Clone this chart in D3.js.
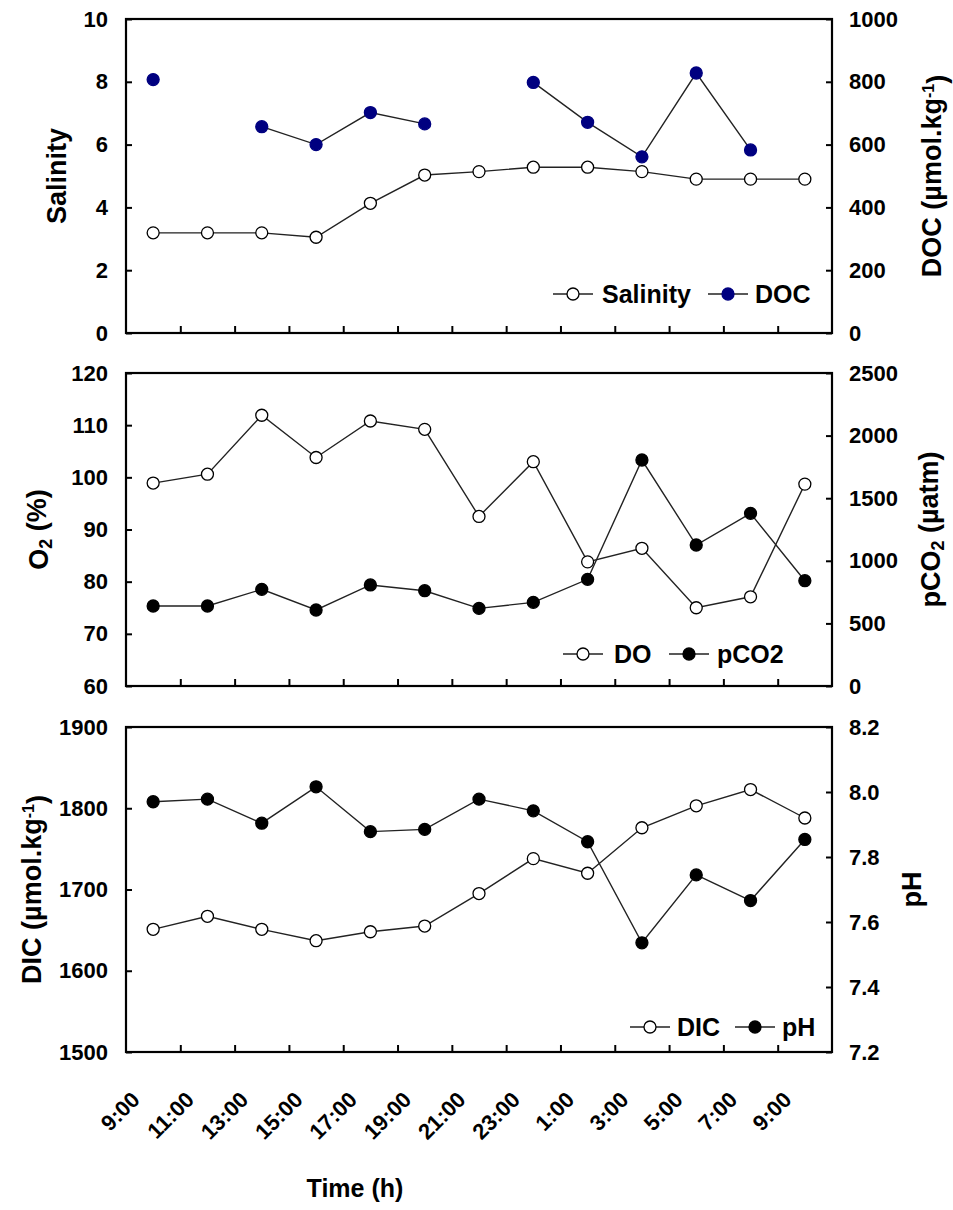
<html>
<head>
<meta charset="utf-8">
<title>Time series</title>
<script src="https://d3js.org/d3.v7.min.js"></script>
<style>
  body { margin: 0; background: #fff; }
  text { font-family: "Liberation Sans", Arial, sans-serif; font-weight: bold; fill: #000; }
</style>
</head>
<body>
<div id="chart"></div>
<script>
// sampling times, every 2 h
const timeLabels = ["9:00","11:00","13:00","15:00","17:00","19:00","21:00","23:00","1:00","3:00","5:00","7:00","9:00"];

const salinity = [3.19, 3.19, 3.19, 3.05, 4.13, 5.03, 5.14, 5.28, 5.28, 5.14, 4.9, 4.9, 4.9];
const doc = [807, null, 657, 600, 702, 666, null, 798, 671, 561, 828, 583, null];

const dissolvedO2 = [98.9, 100.6, 111.9, 103.8, 110.8, 109.2, 92.5, 103.0, 83.8, 86.4, 75.0, 77.1, 98.7];
const pco2 = [639, 639, 772, 607, 807, 761, 620, 668, 852, 1805, 1126, 1379, 841];

const dic = [1651, 1667, 1651, 1637, 1648, 1655, 1695, 1738, 1720, 1776, 1803, 1823, 1788];
const ph = [7.970, 7.978, 7.904, 8.016, 7.878, 7.885, 7.978, 7.942, 7.847, 7.536, 7.745, 7.666, 7.854];

const salinityTicks = [0, 2, 4, 6, 8, 10];
const docTicks = [0, 200, 400, 600, 800, 1000];
const o2Ticks = [60, 70, 80, 90, 100, 110, 120];
const pco2Ticks = [0, 500, 1000, 1500, 2000, 2500];
const dicTicks = [1500, 1600, 1700, 1800, 1900];
const phTicks = [7.2, 7.4, 7.6, 7.8, 8.0, 8.2];

let width = 953, height = 1210,
    plotLeft = 126, plotRight = 832,
    tickFont = 22, legendFont = 25, titleFont = 27,
    docColor = "#000080";

const svg = d3.select("#chart").append("svg")
    .attr("width", width)
    .attr("height", height);

const x = d3.scaleBand()
    .domain(d3.range(timeLabels.length))
    .range([plotLeft, plotRight]);
const xEdge = d3.scaleLinear()
    .domain([0, timeLabels.length])
    .range([plotLeft, plotRight]);
const cx = i => x(i) + x.bandwidth() / 2;

const panels = [
    { top: 19, bottom: 333,
      left: { ticks: salinityTicks, fmt: d3.format("d"), title: [["Salinity"]], tx: 57 },
      right: { ticks: docTicks, fmt: d3.format("d"), title: [["DOC (µmol.kg"], ["-1", "sup"], [")"]], tx: 932 },
      series: [
        { values: salinity, axis: "left", fill: "#fff", stroke: "#000", name: "Salinity" },
        { values: doc, axis: "right", fill: docColor, stroke: docColor, name: "DOC" }
      ],
      legend: [ { lx: 553, tx: 602 }, { lx: 708, tx: 755 } ], legendY: 294 },
    { top: 373, bottom: 686,
      left: { ticks: o2Ticks, fmt: d3.format("d"), title: [["O"], ["2", "sub"], [" (%)"]], tx: 39 },
      right: { ticks: pco2Ticks, fmt: d3.format("d"), title: [["pCO"], ["2", "sub"], [" (µatm)"]], tx: 931 },
      series: [
        { values: dissolvedO2, axis: "left", fill: "#fff", stroke: "#000", name: "DO" },
        { values: pco2, axis: "right", fill: "#000", stroke: "#000", name: "pCO2" }
      ],
      legend: [ { lx: 563, tx: 614 }, { lx: 669, tx: 717 } ], legendY: 654 },
    { top: 727, bottom: 1052,
      left: { ticks: dicTicks, fmt: d3.format("d"), title: [["DIC (µmol.kg"], ["-1", "sup"], [")"]], tx: 32 },
      right: { ticks: phTicks, fmt: d3.format(".1f"), title: [["pH"]], tx: 912 },
      series: [
        { values: dic, axis: "left", fill: "#fff", stroke: "#000", name: "DIC" },
        { values: ph, axis: "right", fill: "#000", stroke: "#000", name: "pH" }
      ],
      legend: [ { lx: 630, tx: 677 }, { lx: 735, tx: 782 } ], legendY: 1027 }
];

// rotated axis title, with optional sub/superscript pieces
const addTitle = (g, parts, tx, ty) => {
    let t = g.append("text")
        .attr("transform", `translate(${tx},${ty}) rotate(-90)`)
        .attr("text-anchor", "middle")
        .attr("dy", "0.35em")
        .style("font-size", titleFont + "px");
    let shift = 0;
    parts.forEach(p => {
        let s = t.append("tspan").text(p[0]);
        if (p[1] == "sup") { s.attr("dy", "-0.45em").style("font-size", "16px"); shift = 0.45; }
        else if (p[1] == "sub") { s.attr("dy", "0.22em").style("font-size", "18px"); shift = -0.22; }
        else if (shift != 0) { s.attr("dy", shift + "em"); shift = 0; }
    });
};

panels.forEach((p, pi) => {
    const g = svg.append("g");
    const yL = d3.scaleLinear().domain(d3.extent(p.left.ticks)).range([p.bottom, p.top]);
    const yR = d3.scaleLinear().domain(d3.extent(p.right.ticks)).range([p.bottom, p.top]);

    // left axis, ticks pointing inside
    const ax = g.append("g")
        .attr("transform", `translate(${plotLeft},0)`)
        .call(d3.axisLeft(yL).tickValues(p.left.ticks).tickFormat(p.left.fmt).tickSize(-6).tickPadding(18));
    ax.select(".domain").remove();
    ax.selectAll("text").style("font-size", tickFont + "px").attr("font-family", null);
    ax.selectAll("line").attr("stroke-width", 2);

    const axR = g.append("g")
        .attr("transform", `translate(${plotRight},0)`)
        .call(d3.axisRight(yR).tickValues(p.right.ticks).tickFormat(p.right.fmt).tickSize(-6).tickPadding(17));
    axR.select(".domain").remove();
    axR.selectAll("text").style("font-size", tickFont + "px").attr("font-family", null);
    axR.selectAll("line").attr("stroke-width", 2);

    const axB = g.append("g")
        .attr("transform", `translate(0,${p.bottom})`)
        .call(d3.axisBottom(xEdge).tickValues(d3.range(1, timeLabels.length)).tickFormat("").tickSize(-7));
    axB.select(".domain").remove();
    axB.selectAll("line").attr("stroke-width", 2);

    g.append("rect")
        .attr("x", plotLeft).attr("y", p.top)
        .attr("width", plotRight - plotLeft).attr("height", p.bottom - p.top)
        .attr("fill", "none").attr("stroke", "#000").attr("stroke-width", 2.2);

    addTitle(g, p.left.title, p.left.tx, (p.top + p.bottom) / 2);
    addTitle(g, p.right.title, p.right.tx, (p.top + p.bottom) / 2);

    p.series.forEach((s, si) => {
        const y = s.axis == "left" ? yL : yR;
        const line = d3.line()
            .defined(d => d != null)
            .x((d, i) => cx(i))
            .y(d => y(d));
        g.append("path")
            .attr("d", line(s.values))
            .attr("fill", "none")
            .attr("stroke", "#222")
            .attr("stroke-width", 1.4);
        g.selectAll(".pt" + si)
            .data(s.values.map((v, i) => ({ v: v, i: i })).filter(d => d.v != null))
            .enter()
            .append("circle")
            .attr("cx", d => cx(d.i))
            .attr("cy", d => y(d.v))
            .attr("r", 6)
            .attr("fill", s.fill)
            .attr("stroke", s.stroke)
            .attr("stroke-width", 1.3);

        // legend entry
        const lg = p.legend[si];
        g.append("line")
            .attr("x1", lg.lx).attr("x2", lg.lx + 40)
            .attr("y1", p.legendY).attr("y2", p.legendY)
            .attr("stroke", "#222").attr("stroke-width", 1.4);
        g.append("circle")
            .attr("cx", lg.lx + 20).attr("cy", p.legendY).attr("r", 6)
            .attr("fill", s.fill).attr("stroke", s.stroke).attr("stroke-width", 1.3);
        g.append("text")
            .attr("x", lg.tx).attr("y", p.legendY)
            .attr("dy", "0.36em")
            .style("font-size", legendFont + "px")
            .text(s.name);
    });
});

// time labels under the last panel
svg.append("g").selectAll("text")
    .data(timeLabels)
    .enter()
    .append("text")
    .attr("transform", (d, i) => `translate(${cx(i) - 12},1101) rotate(-45)`)
    .attr("text-anchor", "end")
    .style("font-size", tickFont + "px")
    .text(d => d);

svg.append("text")
    .attr("x", 355).attr("y", 1197)
    .attr("text-anchor", "middle")
    .style("font-size", "25px")
    .text("Time (h)");
</script>
</body>
</html>
